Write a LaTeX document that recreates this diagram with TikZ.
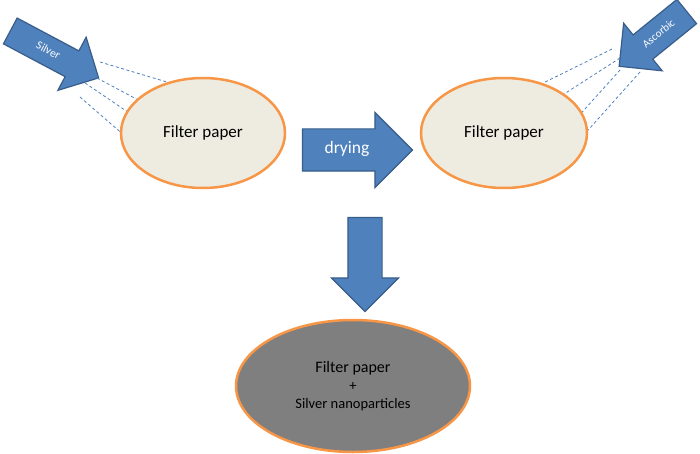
\documentclass[tikz,border=0pt]{standalone}
\usepackage{fontspec}
\setmainfont{Carlito}
\usetikzlibrary{shapes.geometric,shapes.arrows}
\definecolor{arrowfill}{HTML}{4F81BD}
\definecolor{arrowedge}{HTML}{385D8A}
\definecolor{paperfill}{HTML}{EEECE1}
\definecolor{paperedge}{HTML}{F79646}
\definecolor{greyfill}{HTML}{7F7F7F}
\begin{document}
\begin{tikzpicture}[x=1pt,y=1pt,
    paper/.style={ellipse,draw=paperedge,line width=2.5pt,fill=paperfill,inner sep=0pt},
    blockarrow/.style={single arrow,draw=arrowedge,line width=1.2pt,fill=arrowfill,
      text=white,inner xsep=0pt},
    spray/.style={draw=arrowfill,line width=0.8pt,dash pattern=on 3pt off 2.5pt}]
  \useasboundingbox (0,0) rectangle (700,-454);
  \draw
    (203,-133) node[paper,minimum width=164pt,minimum height=110pt] (fp1)
      {\fontsize{17}{20}\selectfont Filter paper}
    (504,-133) node[paper,minimum width=166pt,minimum height=110pt] (fp2)
      {\fontsize{17}{20}\selectfont Filter paper}
    (353,-386) node[paper,fill=greyfill,minimum width=234pt,minimum height=132pt,
      align=center,font=\fontsize{14.5}{18}\selectfont] (fpag)
      {{\fontsize{16}{18}\selectfont Filter paper}\\+\\Silver nanoparticles};
  \path
    (347,-150) node[blockarrow,minimum height=110pt,single arrow head extend=16.5pt,
      text height=11pt,text depth=3.5pt,inner ysep=13.25pt] (dry)
      {\fontsize{17.5}{20}\selectfont drying}
    (48,-51) node[blockarrow,rotate=-28,minimum height=100pt,single arrow head extend=15.5pt,
      text height=8pt,text depth=2pt,inner ysep=9pt] (sv)
      {\fontsize{11.5}{13}\selectfont Silver}
    (659,-34) node[blockarrow,rotate=39,shape border rotate=180,minimum height=87pt,
      single arrow head extend=15pt,text height=8pt,text depth=2pt,inner ysep=10pt] (asc)
      {\fontsize{11}{13}\selectfont Ascorbic}
    (365,-256) node[blockarrow,rotate=-90,minimum height=94pt,single arrow head extend=16.5pt,
      text height=0pt,text depth=0pt,inner ysep=16.5pt] (down) {};
  \coordinate (s1) at (100,-62);
  \coordinate (s2) at (97,-78);
  \coordinate (s3) at (85,-83);
  \coordinate (s4) at (80,-97);
  \coordinate (a1) at (612,-49);
  \coordinate (a2) at (620,-58);
  \coordinate (a3) at (620,-70);
  \coordinate (a4) at (640,-72);
  \begin{scope}[spray]
    \draw (s1) to (fp1.125);
    \draw (s2) to (fp1.153);
    \draw (s3) to (fp1.164);
    \draw (s4) to (fp1.179);
    \draw (a1) to (fp2.52);
    \draw (a2) to (fp2.33);
    \draw (a3) to (fp2.15);
    \draw (a4) to (fp2.2);
  \end{scope}
\end{tikzpicture}
\end{document}
